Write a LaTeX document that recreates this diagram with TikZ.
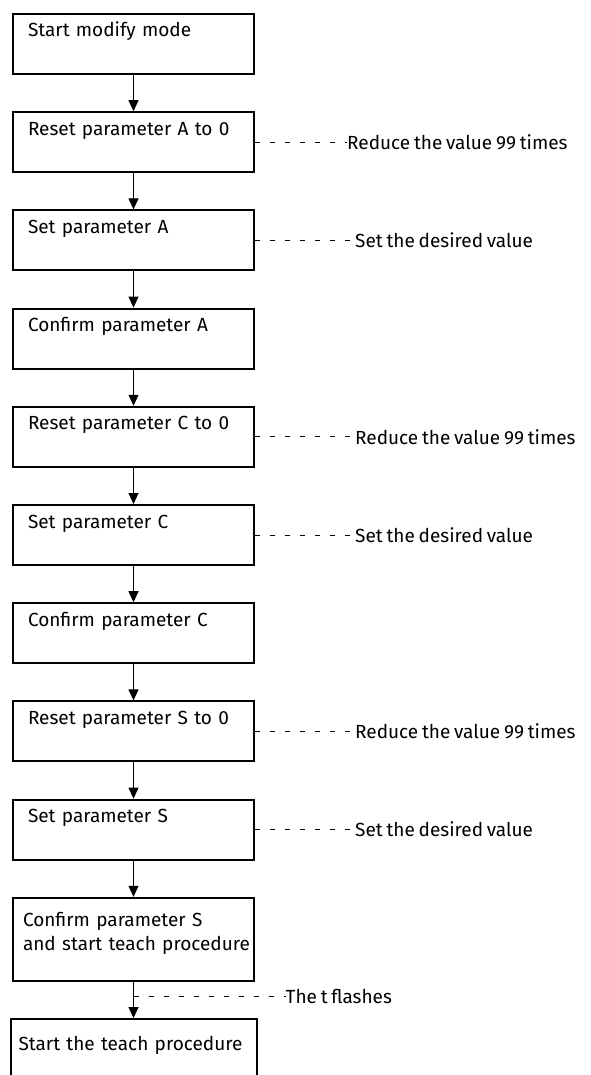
\documentclass[tikz,border=0pt]{standalone}
\usepackage{fontspec}
\setmainfont{Fira Sans}[WordSpace=0.75]
\usepackage{tikz}
\usetikzlibrary{positioning}
\usetikzlibrary{arrows.meta}

\tikzset{
	stepbox/.style={draw, rectangle, line width=2pt, inner xsep=15pt, inner ysep=8pt,
		text width=211pt, align=left, text height=15pt, text depth=29pt,
		font=\fontsize{19}{24}\selectfont},
	note/.style={inner sep=0pt, font=\fontsize{19}{24}\selectfont},
	flow/.style={line width=1pt, -{Triangle[length=11pt,width=10pt]}},
	hint/.style={line width=1pt, dash pattern=on 5pt off 10pt},
}

\begin{document}
\begin{tikzpicture}[x=1pt,y=1pt]
	\useasboundingbox (0,0) rectangle (590,-1075);
	%% the steps
	\node[stepbox, anchor=north west] (s1) at (12,-13) {Start modify mode};
	\node[stepbox, below =36.2pt of s1] (s2) {Reset parameter A to 0};
	\node[stepbox, below =36.2pt of s2] (s3) {Set parameter A};
	\node[stepbox, below =36.2pt of s3] (s4) {Confirm parameter A};
	\node[stepbox, below =36.2pt of s4] (s5) {Reset parameter C to 0};
	\node[stepbox, below =36.2pt of s5] (s6) {Set parameter C};
	\node[stepbox, below =36.2pt of s6] (s7) {Confirm parameter C};
	\node[stepbox, below =36.2pt of s7] (s8) {Reset parameter S to 0};
	\node[stepbox, below =36.2pt of s8] (s9) {Set parameter S};
	\node[stepbox, below =36.2pt of s9, inner xsep=10pt, text width=221pt,
		text height=21pt, text depth=46pt] (s10) {Confirm parameter S\\\mbox{and start teach procedure}};
	\node[stepbox, below =36.2pt of s10, inner xsep=8pt, text width=230pt,
		text height=23pt, text depth=29pt] (s11) {Start the teach procedure};
	%% the notes on the right
	\node[note, anchor=west, right =92pt of s2] (n2) {Reduce the value 99 times};
	\node[note, anchor=west, right =100pt of s3] (n3) {Set the desired value};
	\node[note, anchor=west, right =100pt of s5] (n5) {Reduce the value 99 times};
	\node[note, anchor=west, right =100pt of s6] (n6) {Set the desired value};
	\node[note, anchor=west, right =100pt of s8] (n8) {Reduce the value 99 times};
	\node[note, anchor=west, right =100pt of s9] (n9) {Set the desired value};
	% arrows between the steps
	\draw[flow] (s1) -- (s2);
	\draw[flow] (s2) -- (s3);
	\draw[flow] (s3) -- (s4);
	\draw[flow] (s4) -- (s5);
	\draw[flow] (s5) -- (s6);
	\draw[flow] (s6) -- (s7);
	\draw[flow] (s7) -- (s8);
	\draw[flow] (s8) -- (s9);
	\draw[flow] (s9) -- (s10);
	\draw[flow] (s10) -- coordinate[pos=0.4] (t) (s11);
	% dashed hints
	\draw[hint] (s2) -- (n2);
	\draw[hint] (s3) -- (n3);
	\draw[hint] (s5) -- (n5);
	\draw[hint] (s6) -- (n6);
	\draw[hint] (s8) -- (n8);
	\draw[hint] (s9) -- (n9);
	\node[note, anchor=west, right =152pt of t] (nt) {The t flashes};
	\draw[hint] (t) -- (nt);
\end{tikzpicture}
\end{document}
